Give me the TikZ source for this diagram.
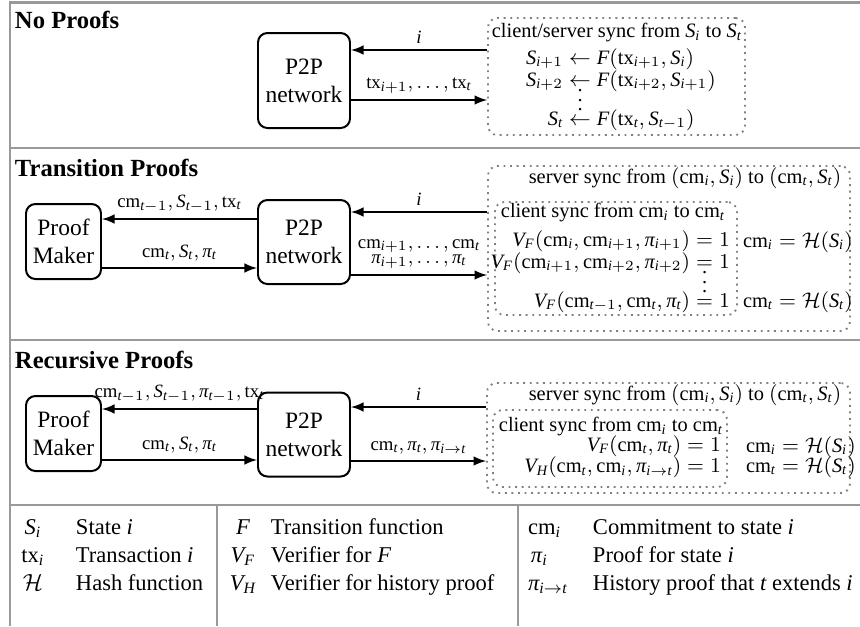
\documentclass[tikz,border=0pt]{standalone}
\usepackage{fontspec}
\setmainfont{Liberation Serif}
\usetikzlibrary{arrows,positioning,fit}

% Times-like italic letters in math
\DeclareSymbolFont{tletters}{TU}{\familydefault}{m}{it}
\DeclareMathSymbol{S}{\mathalpha}{tletters}{`S}
\DeclareMathSymbol{F}{\mathalpha}{tletters}{`F}
\DeclareMathSymbol{V}{\mathalpha}{tletters}{`V}
\DeclareMathSymbol{H}{\mathalpha}{tletters}{`H}
\DeclareMathSymbol{i}{\mathalpha}{tletters}{`i}
\DeclareMathSymbol{t}{\mathalpha}{tletters}{`t}
\AtBeginDocument{\Umathchardef\pi="0 \symtletters "03C0 }

\newcommand{\pxu}{0.426pt}
\newcommand{\cmt}{\mathrm{cm}}
\newcommand{\txn}{\mathrm{tx}}
\newcommand{\hsh}{\mathcal{H}}

\tikzset{
  party/.style={draw, rounded corners=4pt, line width=0.85pt, align=center, inner sep=2pt},
  syncbox/.style={draw=gray, dotted, line width=0.8pt, rounded corners=4pt, inner sep=0pt},
  syncfont/.style={font=\fontsize{8.7}{10}\selectfont, inner sep=0pt},
  msg/.style={font=\fontsize{8}{9.5}\selectfont, above, inner sep=2.5pt},
  panelline/.style={draw=gray!80, line width=0.9pt},
  caption/.style={font=\bfseries\fontsize{10.5}{12}\selectfont, anchor=base west, inner sep=0pt},
  keyitem/.style={font=\fontsize{9.6}{11}\selectfont, anchor=base west, inner sep=0pt},
}

\begin{document}
\begin{tikzpicture}[x=\pxu, y=-\pxu, >=latex, line width=0.85pt]
    \useasboundingbox (0,0) rectangle (860,626);

    % panels
    \draw[panelline] (10,626) -- (10,2.5) -- (860,2.5);
    \draw[panelline] (10,148) -- (860,148);
    \draw[panelline] (10,340) -- (860,340);
    \draw[panelline] (10,505) -- (860,505);
    \draw[panelline] (217,505) -- (217,626);
    \draw[panelline] (518,505) -- (518,626);

    % no proofs
    \node[caption] (cap1) at (14,28) {No Proofs};
    \node[party, minimum width=92*\pxu, minimum height=95*\pxu] (net1) at (304,80.5) {P2P\\network};
    \node[syncbox, fit={(488,18) (745,135)}] (sync1) {};
    \node[syncfont] (sync1t) at (617,33) {client/server sync from $S_i$ to $S_t$};
    \node[syncfont] (sync1e) at (621,90) {$\def\arraystretch{0.85}\begin{array}{@{}r@{\;}c@{\;}l@{}}
        S_{i+1} & \leftarrow & F(\txn_{i+1},S_i)\\
        S_{i+2} & \leftarrow & F(\txn_{i+2},S_{i+1})\\[-7pt]
                & \vdots     & \\[-3pt]
        S_t     & \leftarrow & F(\txn_t,S_{t-1})
      \end{array}$};
    \coordinate (in1)  at (0,50);
    \coordinate (out1) at (0,100);
    \draw[<-] (net1.east |- in1)  -- node[msg] {$i$} (sync1.west |- in1);
    \draw[->] (net1.east |- out1) -- node[msg] {$\txn_{i+1},\dots,\txn_t$} (sync1.west |- out1);

    % transition proofs
    \node[caption] (cap2) at (14,176) {Transition Proofs};
    \node[party, minimum width=75*\pxu, minimum height=75*\pxu] (maker2) at (63.5,241.5) {Proof\\Maker};
    \node[party, minimum width=92*\pxu, minimum height=84*\pxu] (net2) at (304,242) {P2P\\network};
    \coordinate (up2) at (0,219);
    \coordinate (dn2) at (0,268);
    \draw[->] (net2.west |- up2) -- node[msg] {$\cmt_{t-1},S_{t-1},\txn_t$} (maker2.east |- up2);
    \draw[->] (maker2.east |- dn2) -- node[msg] {$\cmt_t,S_t,\pi_t$} (net2.west |- dn2);
    \node[syncbox, fit={(488,166) (850,331)}] (server2) {};
    \node[syncbox, fit={(495,202) (737,315)}] (client2) {};
    \node[syncfont] (server2t) at (685,178) {server sync from $(\cmt_i,S_i)$ to $(\cmt_t,S_t)$};
    \node[syncfont] (client2t) at (613,213) {client sync from $\cmt_i$ to $\cmt_t$};
    \node[syncfont, anchor=east] (client2e) at (731,272) {$\def\arraystretch{0.85}\begin{array}{@{}r@{\;}c@{\;}l@{}}
        V_F(\cmt_i,\cmt_{i+1},\pi_{i+1})     & = & 1\\
        V_F(\cmt_{i+1},\cmt_{i+2},\pi_{i+2}) & = & 1\\[-7pt]
                                             & \vdots & \\[-3pt]
        V_F(\cmt_{t-1},\cmt_t,\pi_t)         & = & 1
      \end{array}$};
    \node[syncfont, anchor=west] (hash2a) at (742,242) {$\cmt_i=\hsh(S_i)$};
    \node[syncfont, anchor=west] (hash2b) at (742,302) {$\cmt_t=\hsh(S_t)$};
    \coordinate (in2)  at (0,212);
    \coordinate (out2) at (0,275);
    \draw[<-] (net2.east |- in2)  -- node[msg] {$i$} (server2.west |- in2);
    \draw[->] (net2.east |- out2) -- node[msg, align=center] {$\cmt_{i+1},\dots,\cmt_t$\\[-3pt]$\pi_{i+1},\dots,\pi_t$} (server2.west |- out2);

    % recursive proofs
    \node[caption] (cap3) at (14,368) {Recursive Proofs};
    \node[party, minimum width=75*\pxu, minimum height=75*\pxu] (maker3) at (63.5,433.5) {Proof\\Maker};
    \node[party, minimum width=92*\pxu, minimum height=84*\pxu] (net3) at (304,434.5) {P2P\\network};
    \coordinate (up3) at (0,409);
    \coordinate (dn3) at (0,460);
    \draw[->] (net3.west |- up3) -- node[msg] {$\cmt_{t-1},S_{t-1},\pi_{t-1},\txn_t$} (maker3.east |- up3);
    \draw[->] (maker3.east |- dn3) -- node[msg] {$\cmt_t,S_t,\pi_t$} (net3.west |- dn3);
    \node[syncbox, fit={(487,383) (850,493)}] (server3) {};
    \node[syncbox, fit={(493,410) (727,487)}] (client3) {};
    \node[syncfont] (server3t) at (685,395) {server sync from $(\cmt_i,S_i)$ to $(\cmt_t,S_t)$};
    \node[syncfont] (client3t) at (611,427) {client sync from $\cmt_i$ to $\cmt_t$};
    \node[syncfont, anchor=east] (client3e) at (722,457) {$\def\arraystretch{0.85}\begin{array}{@{}r@{\;}c@{\;}l@{}}
        V_F(\cmt_t,\pi_t)               & = & 1\\
        V_H(\cmt_t,\cmt_i,\pi_{i\to t}) & = & 1
      \end{array}$};
    \node[syncfont, anchor=west] (hash3a) at (745,447) {$\cmt_i=\hsh(S_i)$};
    \node[syncfont, anchor=west] (hash3b) at (745,467) {$\cmt_t=\hsh(S_t)$};
    \coordinate (in3)  at (0,407);
    \coordinate (out3) at (0,461);
    \draw[<-] (net3.east |- in3)  -- node[msg] {$i$} (server3.west |- in3);
    \draw[->] (net3.east |- out3) -- node[msg] {$\cmt_t,\pi_t,\pi_{i\to t}$} (server3.west |- out3);

    % legend
    \node[keyitem, anchor=base] (kS)   at (33,534)  {$S_i$};
    \node[keyitem]              (kSd)  at (75,534)  {State $i$};
    \node[keyitem, anchor=base] (ktx)  at (33,562)  {$\txn_i$};
    \node[keyitem]              (ktxd) at (75,562)  {Transaction $i$};
    \node[keyitem, anchor=base] (kH)   at (33,590)  {$\hsh$};
    \node[keyitem]              (kHd)  at (75,590)  {Hash function};
    \node[keyitem, anchor=base] (kF)   at (243,534) {$F$};
    \node[keyitem]              (kFd)  at (270,534) {Transition function};
    \node[keyitem, anchor=base] (kVF)  at (243,562) {$V_F$};
    \node[keyitem]              (kVFd) at (270,562) {Verifier for $F$};
    \node[keyitem, anchor=base] (kVH)  at (243,590) {$V_H$};
    \node[keyitem]              (kVHd) at (270,590) {Verifier for history proof};
    \node[keyitem]              (kcm)  at (527,534) {$\cmt_i$};
    \node[keyitem]              (kcmd) at (592,534) {Commitment to state $i$};
    \node[keyitem]              (kpi)  at (530,562) {$\pi_i$};
    \node[keyitem]              (kpid) at (592,562) {Proof for state $i$};
    \node[keyitem]              (kpt)  at (527,590) {$\pi_{i\to t}$};
    \node[keyitem]              (kptd) at (592,590) {History proof that $t$ extends $i$};
\end{tikzpicture}
\end{document}
